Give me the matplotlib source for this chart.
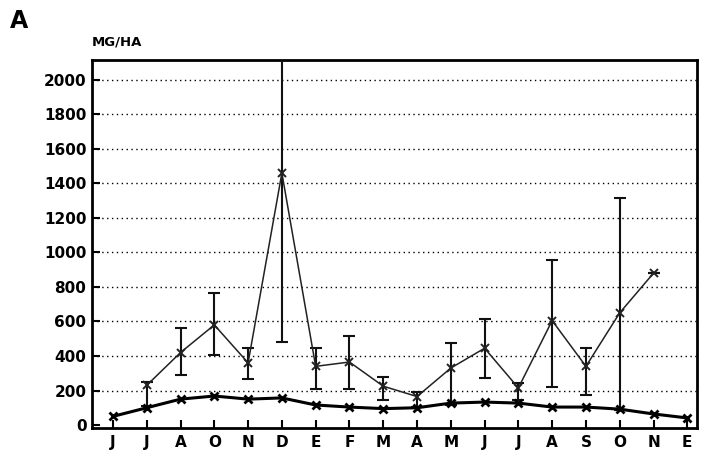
import matplotlib
matplotlib.use("Agg")
import matplotlib.pyplot as plt
import numpy as np

months = ["J", "J", "A", "O", "N", "D", "E", "F", "M", "A", "M", "J", "J", "A", "S", "O", "N", "E"]

# upper series (mean with error bars), months index 1..16
upper_idx = [1, 2, 3, 4, 5, 6, 7, 8, 9, 10, 11, 12, 13, 14, 15, 16]
upper_val = [230, 420, 580, 360, 1460, 340, 365, 225, 165, 330, 445, 215, 605, 340, 650, 880]
upper_lo = [110, 290, 405, 265, 480, 210, 210, 145, 105, 115, 270, 145, 220, 175, 85, 880]
upper_hi = [250, 560, 765, 445, 2440, 445, 515, 278, 190, 475, 615, 245, 955, 445, 1315, 880]

# lower series
lower_val = [50, 100, 150, 168, 150, 157, 116, 104, 95, 100, 127, 133, 127, 104, 104, 92, 64, 41]

fig = plt.figure(figsize=(7.04, 4.5), dpi=100)
ax = fig.add_axes([0.1307, 0.049, 0.859, 0.818])

x_all = np.arange(len(months))
ux = np.array(upper_idx)
uv = np.array(upper_val)
yerr = np.vstack([uv - np.array(upper_lo), np.array(upper_hi) - uv])

ax.errorbar(ux, uv, yerr=yerr, fmt='none', ecolor='#111111', elinewidth=1.5,
            capsize=4, capthick=1.5, zorder=3)
ax.plot(ux, uv, color='#222222', lw=1.1, marker='x', ms=6, mew=1.4, zorder=4)
ax.plot(x_all, lower_val, color='black', lw=2.2, marker='x', ms=6, mew=2, zorder=4)

ax.set_xlim(-0.62, 17.28)
ax.set_ylim(-17, 2116)
ax.set_yticks(np.arange(0, 2001, 200))
ax.set_yticklabels([str(v) for v in range(0, 2001, 200)],
                   fontsize=11, fontweight='heavy', family='DejaVu Sans')
ax.set_xticks(x_all)
ax.set_xticklabels(months, fontsize=11, fontweight='heavy', family='DejaVu Sans')

for v in range(200, 2001, 200):
    ax.axhline(v, color='black', lw=1.0, ls=(0, (1, 2.5)), zorder=1)

ax.tick_params(axis='both', direction='in', length=6, width=1.5, color='black')
ax.tick_params(axis='x', pad=5)
ax.tick_params(axis='y', pad=4)
for s in ax.spines.values():
    s.set_linewidth(2)
    s.set_color('black')

fig.text(0.131, 0.893, "MG/HA", fontsize=9.5, fontweight='heavy', ha='left', va='bottom')
fig.text(0.014, 0.953, "A", fontsize=17, fontweight='heavy', ha='left', va='center')

fig.savefig("out.png", dpi=100)
